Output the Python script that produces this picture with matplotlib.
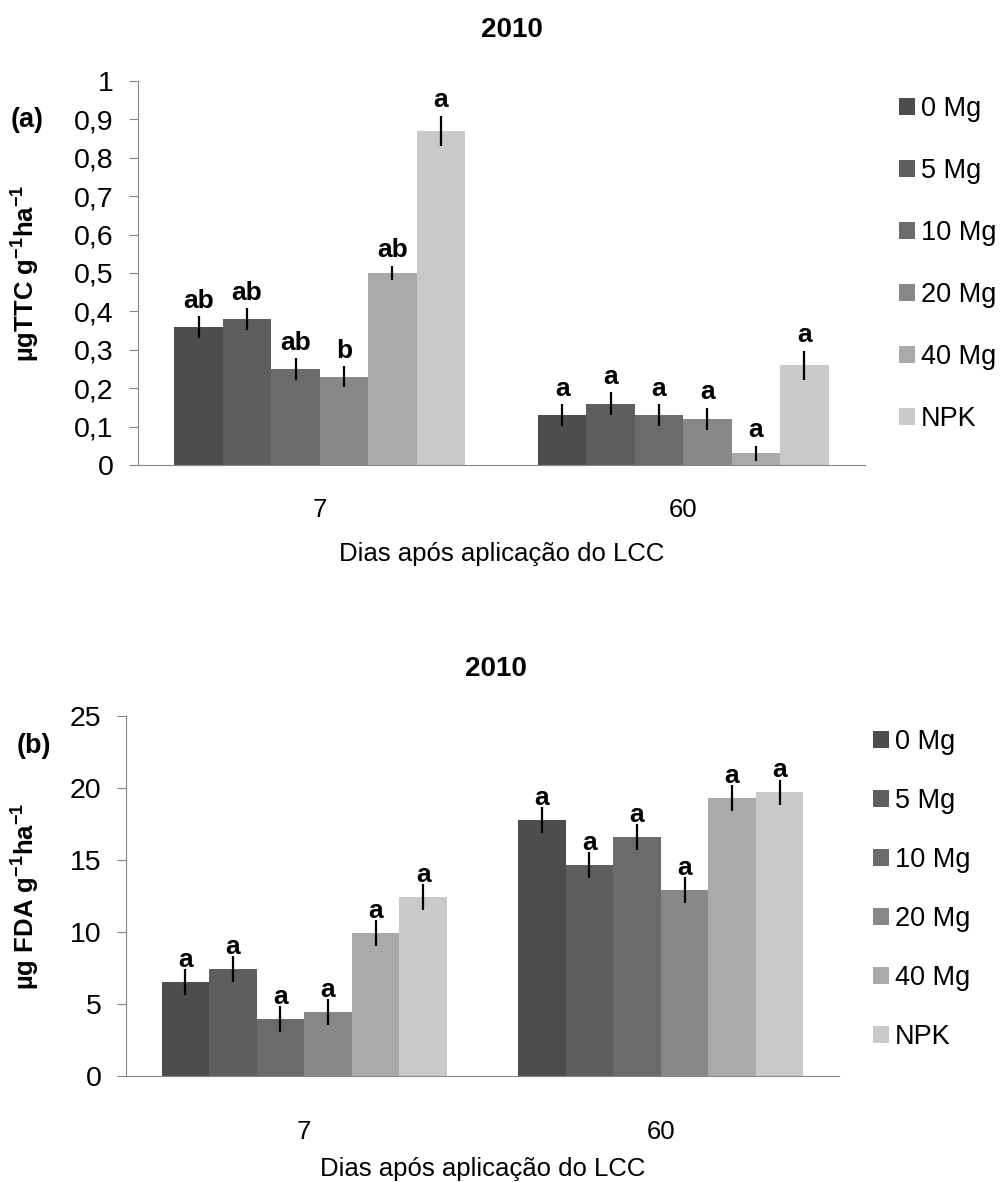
import matplotlib
matplotlib.use("Agg")
import matplotlib.pyplot as plt
import numpy as np

plt.rcParams['font.family'] = ['Liberation Sans', 'DejaVu Sans']
plt.rcParams['mathtext.fontset'] = 'custom'
plt.rcParams['mathtext.rm'] = 'Liberation Sans'
plt.rcParams['mathtext.bf'] = 'Liberation Sans:bold'

days = ['7', '60']
doses = ['0 Mg', '5 Mg', '10 Mg', '20 Mg', '40 Mg', 'NPK']
colors = ['#4d4d4d', '#5e5e5e', '#6b6b6b', '#888888', '#aaaaaa', '#c9c9c9']

# (a) TTC, one list per dose: [7 dias, 60 dias]
ttc = [[0.36, 0.13], [0.38, 0.16], [0.25, 0.13], [0.23, 0.12], [0.50, 0.03], [0.87, 0.26]]
ttc_err = [[0.028, 0.029], [0.028, 0.029], [0.028, 0.029], [0.028, 0.029], [0.019, 0.02], [0.04, 0.038]]
ttc_letters = [['ab', 'a'], ['ab', 'a'], ['ab', 'a'], ['b', 'a'], ['ab', 'a'], ['a', 'a']]

# (b) FDA
fda = [[6.5, 17.8], [7.45, 14.65], [3.95, 16.6], [4.45, 12.9], [9.9, 19.3], [12.4, 19.7]]
fda_err = [[0.9, 0.9], [0.9, 0.9], [0.9, 0.9], [0.9, 0.9], [0.9, 0.9], [0.9, 0.9]]
fda_letters = [['a', 'a']] * 6

ttc_ticks = [0, 0.1, 0.2, 0.3, 0.4, 0.5, 0.6, 0.7, 0.8, 0.9, 1]
fda_ticks = [0, 5, 10, 15, 20, 25]

fig = plt.figure(figsize=(10.08, 11.82), dpi=100)
ax1 = fig.add_axes([138/1008, 1 - 465/1182, 727/1008, 384/1182])
ax2 = fig.add_axes([126/1008, 1 - 1075.7/1182, 713/1008, 359.4/1182])


def draw(ax, vals, errs, letters, ticks, ylabel, tag, tag_xy, title_xy,
         leg_xy, leg_space, let_off, xpad, xlpad):
    x = np.arange(len(days))
    w = 0.8 / len(doses)
    for i in range(len(doses)):
        pos = x + (i - 2.5) * w
        ax.bar(pos, vals[i], w, color=colors[i], label=doses[i],
               yerr=errs[i], error_kw=dict(ecolor='black', elinewidth=1.6, capsize=0))
        for j in range(len(days)):
            ax.annotate(letters[i][j], (pos[j], vals[i][j] + errs[i][j]),
                        xytext=(0, let_off), textcoords='offset points',
                        ha='center', va='baseline', fontsize=19, fontweight='bold')
    ax.set_xlim(-0.5, 1.5)
    ax.set_ylim(ticks[0], ticks[-1])
    ax.set_yticks(ticks)
    ax.set_yticklabels([('%g' % t).replace('.', ',') for t in ticks], fontsize=20.5)
    ax.set_xticks(x)
    ax.set_xticklabels(days, fontsize=18.5)
    ax.tick_params(axis='x', length=0, pad=xpad)
    ax.tick_params(axis='y', length=6.5, color='#868686', pad=11)
    for s in ['top', 'right']:
        ax.spines[s].set_visible(False)
    for s in ['left', 'bottom']:
        ax.spines[s].set_color('#868686')
    ax.set_xlabel('Dias após aplicação do LCC', fontsize=18.5, labelpad=xlpad)
    ax.set_ylabel(ylabel, fontsize=18.5, fontweight='bold')
    ax.yaxis.set_label_coords(-(ax.get_position().x0 * 1008 - 41) / (ax.get_position().width * 1008), 0.5)
    fig.text(tag_xy[0] / 1008, 1 - tag_xy[1] / 1182, tag, fontsize=19.5, fontweight='bold',
             ha='center', va='center')
    fig.text(title_xy[0] / 1008, 1 - title_xy[1] / 1182, '2010', fontsize=20, fontweight='bold',
             ha='center', va='center')
    ax.legend(loc='upper left', bbox_to_anchor=(leg_xy[0] / 1008, 1 - leg_xy[1] / 1182),
              bbox_transform=fig.transFigure, frameon=False, fontsize=19.5,
              handlelength=0.6, handleheight=0.6, handletextpad=0.22,
              labelspacing=leg_space, borderaxespad=0, borderpad=0)


draw(ax1, ttc, ttc_err, ttc_letters, ttc_ticks,
     r'µgTTC g$^{\mathbf{-1}}$ha$^{\mathbf{-1}}$', '(a)', (27, 120), (512, 30),
     (899, 96), 1.33, 6, 24, 14)
draw(ax2, fda, fda_err, fda_letters, fda_ticks,
     r'µg FDA g$^{\mathbf{-1}}$ha$^{\mathbf{-1}}$', '(b)', (34, 746), (496, 669),
     (873, 729), 1.22, 1.5, 32, 9)

fig.savefig('out.png', dpi=100)
